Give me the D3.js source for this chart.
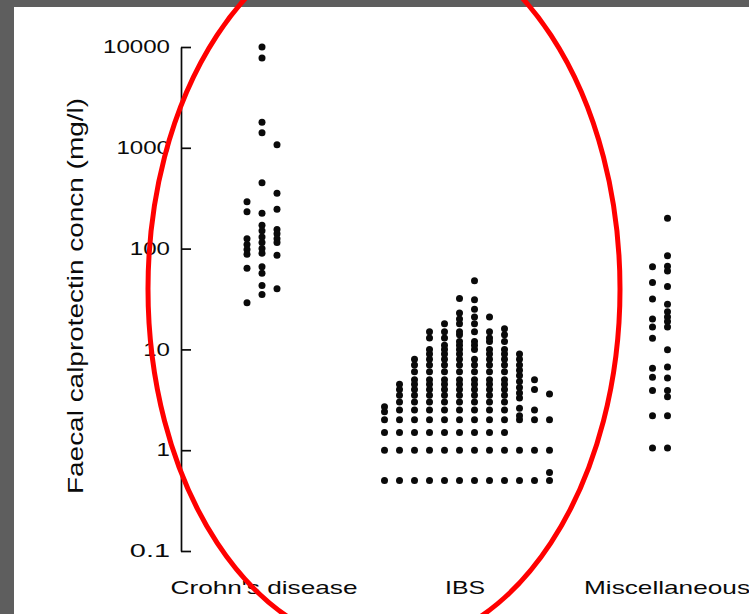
<!DOCTYPE html>
<html>
<head>
<meta charset="utf-8">
<script src="https://cdn.jsdelivr.net/npm/d3@7"></script>
<style>
  html, body { margin: 0; padding: 0; background: #5e5e5e; }
  svg { display: block; }
</style>
</head>
<body>
<svg id="chart" width="749" height="614"></svg>
<script>
// Groups and tick labels
const GROUPS = ["Crohn's disease", 'IBS', 'Miscellaneous'];
const TICK_VALUES = [0.1, 1, 10, 100, 1000, 10000];
const TICK_LABELS = ['0.1', '1', '10', '100', '1000', '10000'];
const Y_TITLE = 'Faecal calprotectin concn (mg/l)';

// Crohn's disease, three columns of dots (mg/l)
const crohnsCol1 = [292, 232, 125, 110, 98, 88, 64, 29];
const crohnsCol2 = [10000, 7800, 1790, 1410, 450, 224, 170, 150, 130, 115, 100, 90, 66, 57, 43, 35];
const crohnsCol3 = [1070, 354, 245, 155, 140, 125, 115, 86, 40];

// IBS, twelve columns of dots
const ibsCol1 = [0.5, 1, 1.5, 2, 2.4, 2.7];
const ibsCol2 = [0.5, 1, 1.5, 2, 2.5, 3, 3.5, 4, 4.5];
const ibsCol3 = [0.5, 1, 1.5, 2, 2.5, 3, 3.5, 4, 4.5, 5, 6, 7, 8];
const ibsCol4 = [0.5, 1, 1.5, 2, 2.5, 3, 3.5, 4, 4.5, 5, 6, 7, 8, 9, 10, 13, 15];
const ibsCol5 = [0.5, 1, 1.5, 2, 2.5, 3, 3.5, 4, 4.5, 5, 6, 7, 8, 9, 10, 11, 13, 15, 18];
const ibsCol6 = [0.5, 1, 1.5, 2, 2.5, 3, 3.5, 4, 4.5, 5, 6, 7, 8, 9, 10, 11, 12, 14, 15, 18, 20, 23, 32];
const ibsCol7 = [0.5, 1, 1.5, 2, 2.5, 3, 3.5, 4, 4.5, 5, 6, 7, 8, 10, 11, 12, 15, 18, 21, 25, 31, 48];
const ibsCol8 = [0.5, 1, 1.5, 2, 2.5, 3, 3.5, 4, 4.5, 5, 6, 7, 8, 9, 10, 12, 13, 15, 21];
const ibsCol9 = [0.5, 1, 1.5, 2, 2.5, 3, 3.5, 4, 4.5, 5, 6, 7, 8, 9, 10, 12, 14, 16];
const ibsCol10 = [0.5, 1, 2, 2.2, 2.6, 3.3, 3.7, 4.2, 4.8, 5.5, 6.2, 7, 8, 9];
const ibsCol11 = [0.5, 1, 2, 2.5, 4, 5];
const ibsCol12 = [0.5, 0.6, 1, 2, 3.6];

// Miscellaneous, two columns
const miscCol1 = [66, 46, 31.6, 20, 16.7, 12.9, 6.5, 5.3, 3.9, 2.2, 1.05];
const miscCol2 = [200, 85, 67, 60, 42, 28, 23.7, 21, 18.9, 16.7, 9.9, 6.7, 5.2, 3.9, 3.4, 2.2, 1.05];

const COLUMNS = [
  [crohnsCol1, crohnsCol2, crohnsCol3],
  [ibsCol1, ibsCol2, ibsCol3, ibsCol4, ibsCol5, ibsCol6, ibsCol7, ibsCol8, ibsCol9, ibsCol10, ibsCol11, ibsCol12],
  [miscCol1, miscCol2]
];

const svg = d3.select('#chart');
const FONT = "'Liberation Sans', Arial, Helvetica, sans-serif";
const INK = '#0a0a0a';

// paper (scan has grey border top and left)
svg.append('rect')
  .attr('x', 14).attr('y', 7)
  .attr('width', 749 - 14).attr('height', 614 - 7)
  .attr('fill', '#ffffff');

const y = d3.scaleLog().domain([0.1, 10000]).range([551, 47]);
const groupX = d3.scaleOrdinal().domain(GROUPS).range([262, 467, 660]);
const labelX = d3.scaleOrdinal().domain(GROUPS).range([264, 465, 667]);
const COL_STEP = 15;

// flatten columns into points
const points = [];
COLUMNS.forEach((cols, gi) => {
  cols.forEach((vals, ci) => {
    vals.forEach(v => points.push({ group: GROUPS[gi], col: ci - (cols.length - 1) / 2, value: v }));
  });
});

// axis
const axisX = 181;
const axis = d3.axisLeft(y)
  .tickValues(TICK_VALUES)
  .tickFormat((d, i) => TICK_LABELS[i])
  .tickSizeInner(-10)
  .tickSizeOuter(0)
  .tickPadding(11);

const gAxis = svg.append('g')
  .attr('transform', `translate(${axisX},0)`)
  .call(axis);

gAxis.select('.domain').attr('stroke', INK).attr('stroke-width', 1.7);
gAxis.selectAll('.tick line').attr('stroke', INK).attr('stroke-width', 1.7);
gAxis.selectAll('.tick text')
  .attr('fill', INK)
  .style('font-family', FONT)
  .style('font-size', '18px')
  .attr('textLength', d => String(TICK_LABELS[TICK_VALUES.indexOf(d)]).length * 13.4)
  .attr('lengthAdjust', 'spacingAndGlyphs');

// y title
svg.append('text')
  .attr('transform', 'translate(83,296) rotate(-90)')
  .attr('text-anchor', 'middle')
  .attr('fill', INK)
  .style('font-family', FONT)
  .style('font-size', '22px')
  .attr('textLength', 396)
  .attr('lengthAdjust', 'spacingAndGlyphs')
  .text(Y_TITLE);

// dots
svg.append('g')
  .selectAll('circle')
  .data(points)
  .enter()
  .append('circle')
  .attr('cx', d => groupX(d.group) + d.col * COL_STEP)
  .attr('cy', d => y(d.value))
  .attr('r', 3.5)
  .attr('fill', INK);

// category labels
const LABEL_LEN = { "Crohn's disease": 187, 'IBS': 40, 'Miscellaneous': 166 };
svg.append('g')
  .selectAll('text')
  .data(GROUPS)
  .enter()
  .append('text')
  .attr('x', d => labelX(d))
  .attr('y', 594)
  .attr('text-anchor', 'middle')
  .attr('fill', INK)
  .style('font-family', FONT)
  .style('font-size', '19px')
  .attr('textLength', d => LABEL_LEN[d])
  .attr('lengthAdjust', 'spacingAndGlyphs')
  .text(d => d);

// red hand-drawn ellipse annotation
svg.append('ellipse')
  .attr('cx', 384)
  .attr('cy', 289)
  .attr('rx', 236)
  .attr('ry', 359)
  .attr('fill', 'none')
  .attr('stroke', '#ff0000')
  .attr('stroke-width', 5);
</script>
</body>
</html>
